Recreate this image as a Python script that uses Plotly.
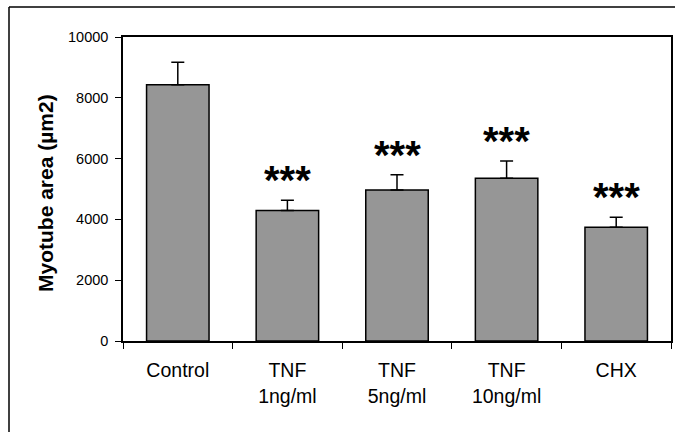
import plotly.graph_objects as go

categories = ["Control", "TNF<br>1ng/ml", "TNF<br>5ng/ml", "TNF<br>10ng/ml", "CHX"]
means = [8430, 4290, 4970, 5350, 3740]
errors = [740, 340, 500, 570, 330]
significance = ["", "***", "***", "***", "***"]
y_ticks = [0, 2000, 4000, 6000, 8000, 10000]

W, H = 675, 432
ML, MR, MT, MB = 123, 4, 37, 91
PW, PH = W - ML - MR, H - MT - MB
FONT = "Liberation Sans, Arial, sans-serif"


def px_x(px):
    return (px - ML) / PW


def px_y(py):
    return (H - MB - py) / PH


fig = go.Figure()
fig.add_trace(go.Bar(
    x=categories, y=means,
    marker=dict(color="#969696", line=dict(color="black", width=1.5)),
    error_y=dict(type="data", array=errors, arrayminus=[0] * len(errors),
                 symmetric=False, color="black", thickness=1.5, width=6.5),
    width=0.57,
))

for c, m, e, s in zip(categories, means, errors, significance):
    if s:
        fig.add_annotation(x=c, y=m + e, text="<b>" + s + "</b>", showarrow=False,
                           xanchor="center", yanchor="bottom", yshift=-4,
                           font=dict(family=FONT, size=40, color="black"))

fig.add_annotation(xref="paper", yref="paper",
                   x=px_x(46), y=px_y(193),
                   text="<b>Myotube area (µm2)</b>", textangle=-90,
                   showarrow=False, xanchor="center", yanchor="middle",
                   font=dict(family=FONT, size=21, color="black"))

# outer frame (left and top edges visible)
fig.add_shape(type="line", xref="paper", yref="paper",
              x0=px_x(9), x1=px_x(9), y0=px_y(7), y1=px_y(440),
              line=dict(color="black", width=1.5))
fig.add_shape(type="line", xref="paper", yref="paper",
              x0=px_x(9), x1=px_x(690), y0=px_y(7), y1=px_y(7),
              line=dict(color="black", width=1.5))

fig.update_layout(
    width=W, height=H,
    margin=dict(l=ML, r=MR, t=MT, b=MB),
    paper_bgcolor="white", plot_bgcolor="white",
    showlegend=False,
    font=dict(family=FONT, color="black"),
)
fig.update_xaxes(
    type="category", showline=True, linecolor="black", linewidth=1.5, mirror=True,
    ticks="outside", tickson="boundaries", ticklen=6, tickcolor="black", tickwidth=1,
    tickfont=dict(family=FONT, size=19.5, color="black"), ticklabelstandoff=11,
    showgrid=False, automargin=False,
)
fig.update_yaxes(
    range=[0, 10000], tickvals=y_ticks, ticktext=[str(v) for v in y_ticks],
    showline=True, linecolor="black", linewidth=1.5,
    mirror=True, ticks="outside", ticklen=6, tickcolor="black", tickwidth=1,
    tickfont=dict(family=FONT, size=14.5, color="black"), ticklabelstandoff=4,
    showgrid=False, zeroline=False, automargin=False,
)

fig.write_html(
    "out.html",
    config={"displayModeBar": False},
    post_script="document.body.style.margin='0px';document.body.style.overflow='hidden';",
)
